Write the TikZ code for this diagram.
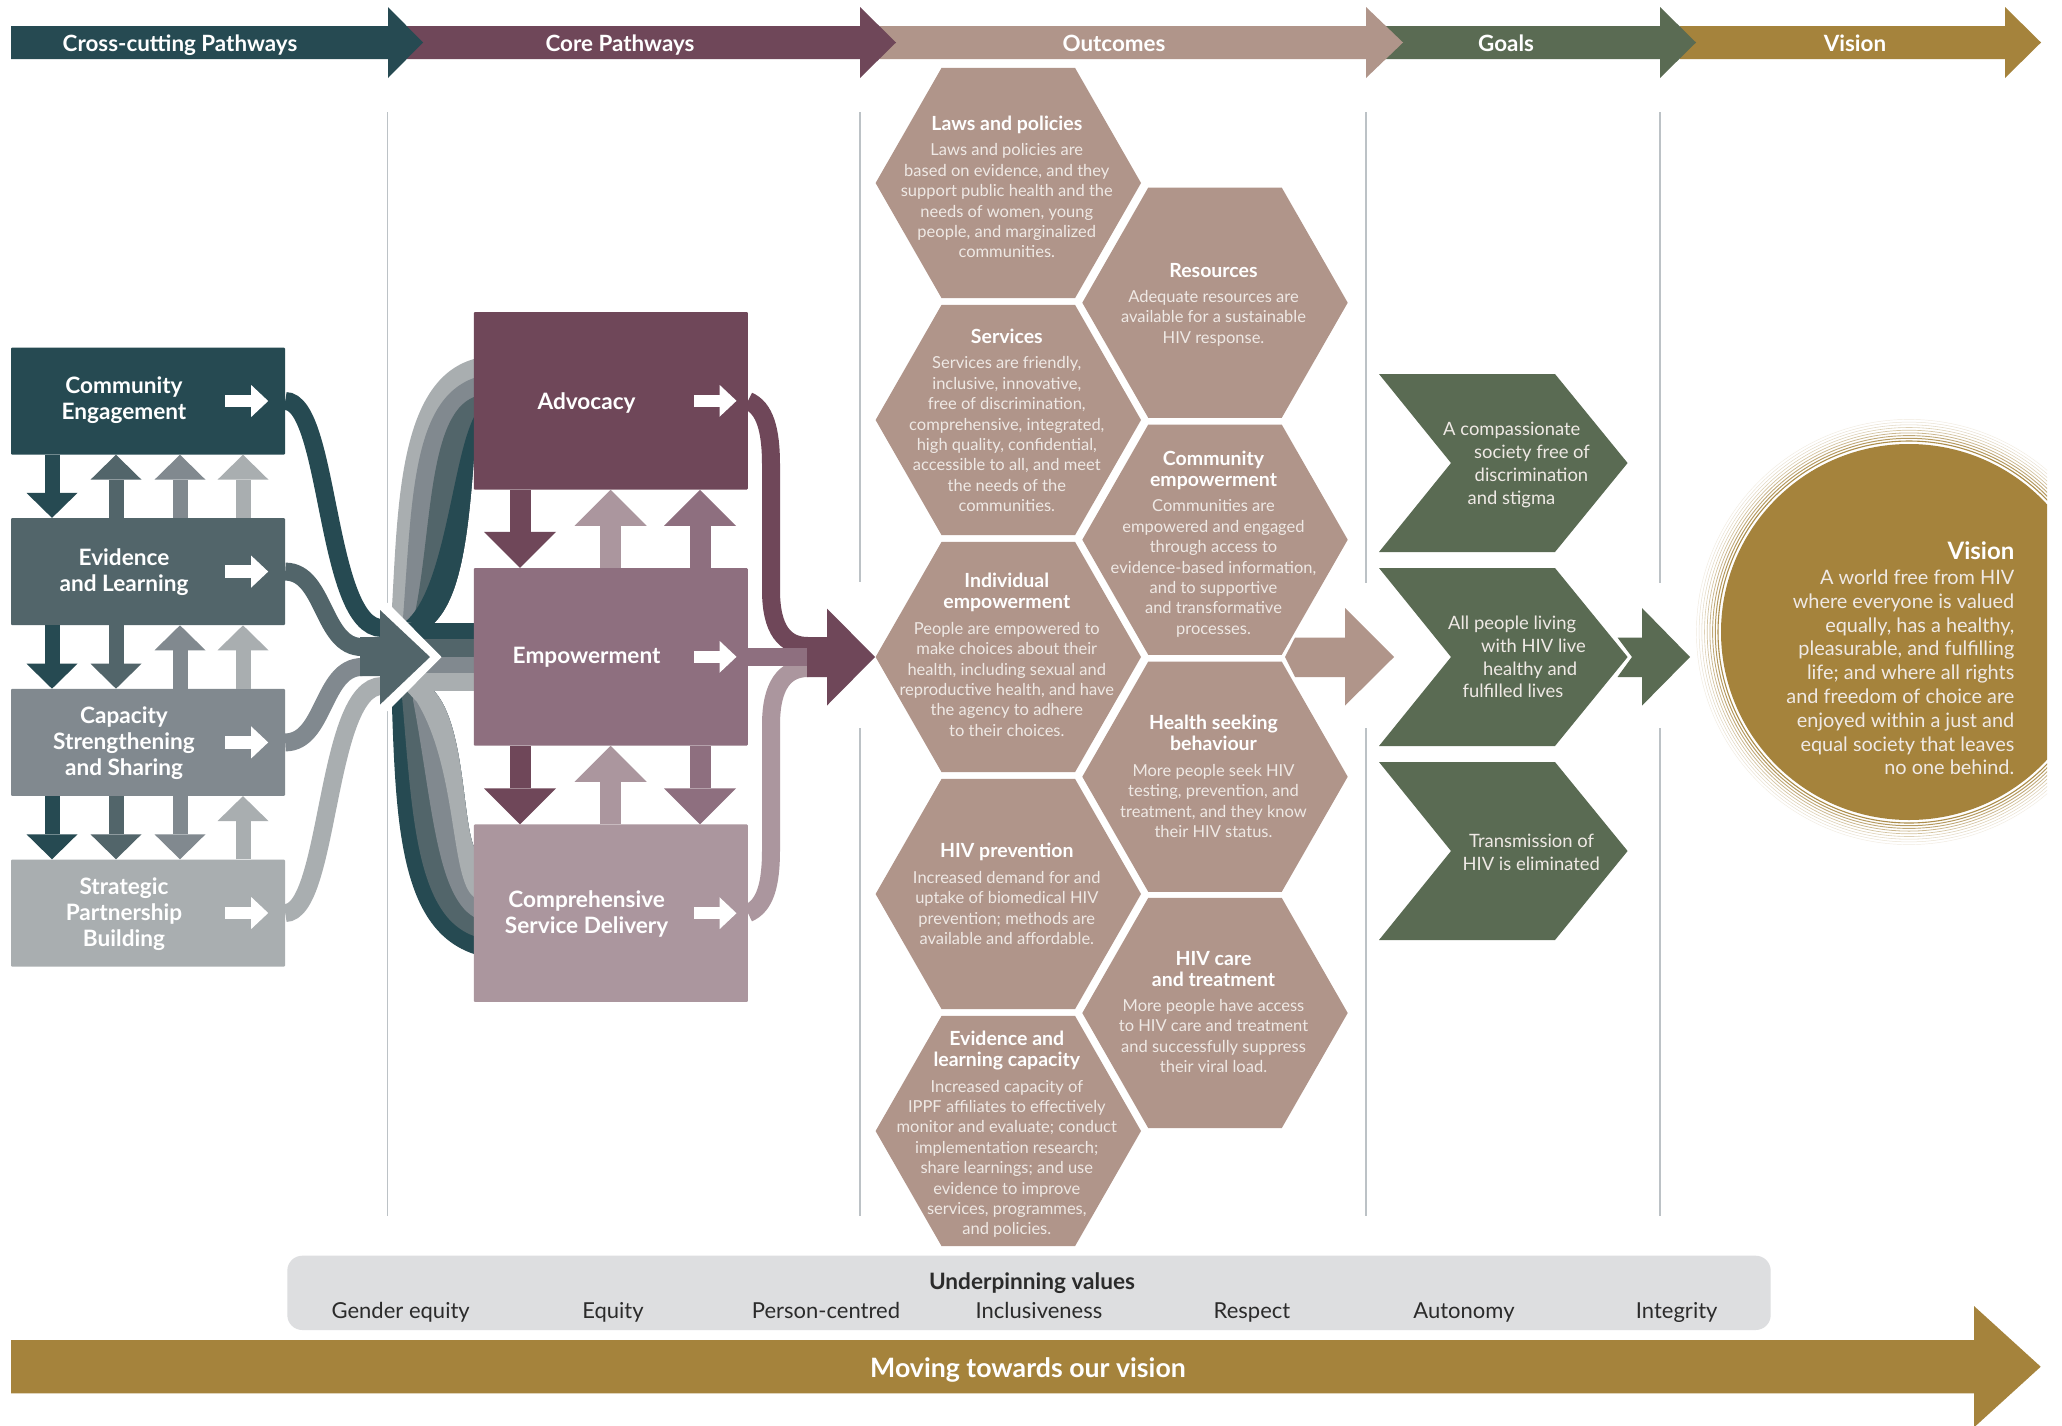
\documentclass[tikz,border=0pt]{standalone}
\usepackage{fontspec}
\setmainfont{Lato}
\usetikzlibrary{arrows.meta,calc}
\definecolor{teal}{HTML}{264A52}
\definecolor{evid}{HTML}{52656A}
\definecolor{capa}{HTML}{81898F}
\definecolor{stra}{HTML}{A9AEB0}
\definecolor{plum}{HTML}{6F4759}
\definecolor{empo}{HTML}{8E6F7F}
\definecolor{comp}{HTML}{AB969E}
\definecolor{tanh}{HTML}{B0958A}
\definecolor{gren}{HTML}{5A6B53}
\definecolor{gold}{HTML}{A5833C}
\definecolor{rule}{HTML}{BCC2C6}
\definecolor{valb}{HTML}{DDDEE0}
\definecolor{bodyt}{HTML}{EFE9E5}
\definecolor{valt}{HTML}{2B2B2B}
\newcommand{\fs}[2]{\fontsize{#1}{#2}\selectfont}
\tikzset{
  x=1pt,y=-1pt,
  crossbox/.style={draw=none,fill=#1,rounded corners=1pt,minimum width=274pt,minimum height=107pt,inner sep=0pt},
  corebox/.style={draw=none,fill=#1,rounded corners=1pt,minimum width=274pt,minimum height=177.5pt,inner sep=0pt},
  boxtext/.style={text=white,align=center,font=\fs{22.6}{26}\bfseries,inner sep=0pt},
  toptext/.style={text=white,font=\fs{22.4}{25}\bfseries,inner sep=0pt,text height=15pt,text depth=5pt},
  hextext/.style={text=bodyt,align=center,font=\fs{16.5}{20.4},inner sep=0pt},
  goaltext/.style={text=bodyt,align=left,anchor=west,font=\fs{18.4}{22.7},inner sep=0pt},
  smallarrow/.style={draw=#1,line width=15pt,-{Triangle[width=51pt,length=25pt,line width=0pt,fill=#1]}},
  bigarrow/.style={draw=#1,line width=21pt,-{Triangle[width=72pt,length=36pt,line width=0pt,fill=#1]}},
  whitearrow/.style={draw=white,line width=12.5pt,-{Triangle[width=32pt,length=17pt,line width=0pt,fill=white]}},
  band/.style={draw=#1,line width=18pt,line cap=butt},
  vrule/.style={draw=rule,line width=1.8pt},
  valtext/.style={text=valt,font=\fs{22}{24},inner sep=0pt,text height=15pt,text depth=5pt},
}
\newcommand{\hexa}[5]{% name, cx, cy, texty, text
  \fill[tanh] (#2-132.7,#3) -- (#2-66.7,#3-115.2) -- (#2+66.7,#3-115.2) -- (#2+132.7,#3) -- (#2+66.7,#3+115.2) -- (#2-66.7,#3+115.2) -- cycle;
  \node[hextext] (#1) at (#2-1.5,#4) {#5};
}
\newcommand{\hd}[1]{{\fontsize{19.5}{21.2}\selectfont\bfseries\color{white}#1}}
\newcommand{\chev}[2]{% cy, name
  \fill[gren] (1379,#1-89) -- (1555,#1-89) -- (1627.6,#1) -- (1555,#1+89) -- (1379,#1+89) -- (1451,#1) -- cycle;
}
\newcommand{\toparr}[5]{% start, base, tip, colour
  \fill[#4] (#1,26) -- (#2,26) -- (#2,7) -- (#3,42.5) -- (#2,78) -- (#2,59) -- (#1,59) -- cycle;
}
\begin{document}
\begin{tikzpicture}
\useasboundingbox (0,0) rectangle (2062,1425);
\fill[white] (0,0) rectangle (2062,1425);
% vertical rules
\draw[vrule] (387.5,112) -- (387.5,1216);
\draw[vrule] (860,112) -- (860,582);
\draw[vrule] (860,728) -- (860,1216);
\draw[vrule] (1366,112) -- (1366,583);
\draw[vrule] (1366,728) -- (1366,1216);
\draw[vrule] (1660,112) -- (1660,583);
\draw[vrule] (1660,728) -- (1660,1216);
% top arrows
\toparr{1680}{2005}{2041}{gold}{}
\toparr{1380}{1660}{1696}{gren}{}
\toparr{880}{1366}{1403}{tanh}{}
\toparr{400}{860}{896}{plum}{}
\toparr{11}{388}{423}{teal}{}
\node[toptext] (t1) at (180,46.5) {Cross-cutting Pathways};
\node[toptext] (t2) at (620,46.5) {Core Pathways};
\node[toptext] (t3) at (1114,46.5) {Outcomes};
\node[toptext] (t4) at (1506,46.5) {Goals};
\node[toptext] (t5) at (1855,46.5) {Vision};
% cross-cutting boxes
\node[crossbox=teal] (b1) at (148,401) {};
\node[crossbox=evid] (b2) at (148,571.6) {};
\node[crossbox=capa] (b3) at (148,742.4) {};
\node[crossbox=stra] (b4) at (148,913) {};
\node[boxtext] (l1) at (124,400.5) {Community\\Engagement};
\node[boxtext] (l2) at (124,572.5) {Evidence\\and Learning};
\node[boxtext] (l3) at (124,743.5) {Capacity\\Strengthening\\and Sharing};
\node[boxtext] (l4) at (124,914.5) {Strategic\\Partnership\\Building};
\foreach \n in {b1,b2,b3,b4}{\draw[whitearrow] ($(\n.east)+(-60,0)$) -- ($(\n.east)+(-17,0)$);}
\coordinate (ca) at (52,0);
\coordinate (cb) at (116,0);
\coordinate (cc) at (180,0);
\coordinate (cd) at (243,0);
\draw[smallarrow=teal] (b1.south -| ca) -- (b2.north -| ca);
\draw[smallarrow=evid] (b2.north -| cb) -- (b1.south -| cb);
\draw[smallarrow=capa] (b2.north -| cc) -- (b1.south -| cc);
\draw[smallarrow=stra] (b2.north -| cd) -- (b1.south -| cd);
\draw[smallarrow=teal] (b2.south -| ca) -- (b3.north -| ca);
\draw[smallarrow=evid] (b2.south -| cb) -- (b3.north -| cb);
\draw[smallarrow=capa] (b3.north -| cc) -- (b2.south -| cc);
\draw[smallarrow=stra] (b3.north -| cd) -- (b2.south -| cd);
\draw[smallarrow=teal] (b3.south -| ca) -- (b4.north -| ca);
\draw[smallarrow=evid] (b3.south -| cb) -- (b4.north -| cb);
\draw[smallarrow=capa] (b3.south -| cc) -- (b4.north -| cc);
\draw[smallarrow=stra] (b4.north -| cd) -- (b3.south -| cd);
% flows into the central arrow
\coordinate (in1) at (382,628);
\coordinate (in2) at (362,647);
\coordinate (in3) at (362,667);
\coordinate (in4) at (382,686);
\draw[band=stra] (b4.east) .. controls (330,913) and (325,686) .. (in4);
\draw[band=teal] (b1.east) .. controls (330,401) and (325,628) .. (in1);
\draw[band=evid] (b2.east) .. controls (325,571.6) and (322,647) .. (in2);
\draw[band=capa] (b3.east) .. controls (325,742.4) and (322,667) .. (in3);
% upper fan
\fill[stra] (392,607) .. controls (398,500) and (400,380) .. (474,359) -- (474,457) .. controls (468,540) and (460,600) .. (432,625) -- (405,625) -- cycle;
\fill[capa] (403,618) .. controls (412,500) and (412,400) .. (474,378) -- (474,457) .. controls (468,540) and (460,600) .. (432,625) -- (405,625) -- cycle;
\fill[evid] (415,613) .. controls (432,530) and (428,415) .. (474,397) -- (474,457) .. controls (468,540) and (460,600) .. (432,625) -- (410,625) -- cycle;
\fill[teal] (405,622) .. controls (445,590) and (452,460) .. (474,417) -- (474,457) .. controls (468,540) and (460,600) .. (432,625) -- cycle;
% lower fan
\fill[teal] (392,707) .. controls (396,830) and (402,930) .. (474,954) -- (474,847) .. controls (462,820) and (465,720) .. (432,689) -- (392,689) -- cycle;
\fill[evid] (402,697) .. controls (412,810) and (415,915) .. (474,936) -- (474,847) .. controls (462,820) and (465,720) .. (432,689) -- (402,689) -- cycle;
\fill[capa] (413,700) .. controls (432,800) and (436,895) .. (474,917) -- (474,847) .. controls (462,820) and (465,720) .. (432,689) -- (413,689) -- cycle;
\fill[stra] (417,702) .. controls (458,770) and (450,880) .. (474,897) -- (474,847) .. controls (462,820) and (465,720) .. (432,689) -- (405,689) -- cycle;
% horizontal stack
\fill[teal] (400,623.3) rectangle (480,639);
\fill[evid] (400,639) rectangle (480,657);
\fill[capa] (400,657) rectangle (480,673);
\fill[stra] (400,673) rectangle (480,690.7);
% central arrow
\fill[white] (380,602) -- (388,603) -- (441.5,657) -- (388,711) -- (380,712) -- cycle;
\fill[evid] (360,637) -- (380,637) -- (380,610) -- (430,657) -- (380,704.6) -- (380,676) -- (360,676) -- cycle;
% core boxes
\node[corebox=plum] (c1) at (610.8,400.8) {};
\node[corebox=empo] (c2) at (610.8,656.8) {};
\node[corebox=comp] (c3) at (610.8,913.2) {};
\node[boxtext] (m1) at (586.6,403) {Advocacy};
\node[boxtext] (m2) at (586.6,657.5) {Empowerment};
\node[boxtext] (m3) at (586.6,913.5) {Comprehensive\\Service Delivery};
\foreach \n in {c1,c2,c3}{\draw[whitearrow] ($(\n.east)+(-54,0)$) -- ($(\n.east)+(-11.5,0)$);}
\coordinate (da) at (520,0);
\coordinate (db) at (610.7,0);
\coordinate (dc) at (700,0);
\draw[bigarrow=plum] (c1.south -| da) -- (c2.north -| da);
\draw[bigarrow=comp] (c2.north -| db) -- (c1.south -| db);
\draw[bigarrow=empo] (c2.north -| dc) -- (c1.south -| dc);
\draw[bigarrow=plum] (c2.south -| da) -- (c3.north -| da);
\draw[bigarrow=comp] (c3.north -| db) -- (c2.south -| db);
\draw[bigarrow=empo] (c2.south -| dc) -- (c3.north -| dc);
% flows out of core
\coordinate (o1) at (808,646);
\coordinate (o2) at (808,656.8);
\coordinate (o3) at (808,668);
\draw[band=comp] (c3.east) .. controls (765,906) and (771,885) .. (771,850) -- (771,725) .. controls (771,685) and (785,668) .. (o3);
\draw[band=plum] (c1.east) .. controls (765,408) and (771,430) .. (771,465) -- (771,590) .. controls (771,630) and (785,646) .. (o1);
\draw[band=empo] (c2.east) -- (o2);
\fill[plum] (807,637) -- (827,637) -- (827,608.5) -- (875,657) -- (827,705.5) -- (827,677) -- (807,677) -- (807,666) -- (807,647) -- cycle;
% outcome hexagons
\hexa{h1}{1008.3}{183}{187}{\hd{Laws and policies}\\[5pt]Laws and policies are\\based on evidence, and they\\support public health and the\\needs of women, young\\people, and marginalized\\communities.}
\hexa{h2}{1215}{302.7}{304.5}{\hd{Resources}\\[5pt]Adequate resources are\\available for a sustainable\\HIV response.}
\hexa{h3}{1008.3}{420}{420.5}{\hd{Services}\\[5pt]Services are friendly,\\inclusive, innovative,\\free of discrimination,\\comprehensive, integrated,\\high quality, confidential,\\accessible to all, and meet\\the needs of the\\communities.}
\hexa{h4}{1215}{539.7}{544}{\hd{Community}\\[.6pt]\hd{empowerment}\\[5pt]Communities are\\empowered and engaged\\through access to\\evidence-based information,\\and to supportive\\and transformative\\processes.}
\hexa{h5}{1008.3}{657}{655}{\hd{Individual}\\[.6pt]\hd{empowerment}\\[5pt]People are empowered to\\make choices about their\\health, including sexual and\\reproductive health, and have\\the agency to adhere\\to their choices.}
\hexa{h6}{1215}{776.7}{776.5}{\hd{Health seeking}\\[.6pt]\hd{behaviour}\\[5pt]More people seek HIV\\testing, prevention, and\\treatment, and they know\\their HIV status.}
\hexa{h7}{1008.3}{894}{894}{\hd{HIV prevention}\\[5pt]Increased demand for and\\uptake of biomedical HIV\\prevention; methods are\\available and affordable.}
\hexa{h8}{1215}{1013}{1012}{\hd{HIV care}\\[.6pt]\hd{and treatment}\\[5pt]More people have access\\to HIV care and treatment\\and successfully suppress\\their viral load.}
\hexa{h9}{1008.3}{1131}{1134.5}{\hd{Evidence and}\\[.6pt]\hd{learning capacity}\\[5pt]Increased capacity of\\IPPF affiliates to effectively\\monitor and evaluate; conduct\\implementation research;\\share learnings; and use\\evidence to improve\\services, programmes,\\and policies.}
% tan arrow
\fill[tanh] (1285,657) -- (1295,637.5) -- (1345,637.5) -- (1345,608) -- (1394,657) -- (1345,705.6) -- (1345,677) -- (1295,677) -- cycle;
% goals
\chev{463}{g1}
\chev{657}{g2}
\chev{851}{g3}
\node[goaltext] (g1t) at (1443,465) {A compassionate\\\hspace*{31pt}society free of\\\hspace*{31.5pt}discrimination\\\hspace*{24.5pt}and stigma};
\node[goaltext] (g2t) at (1448,657) {All people living\\\hspace*{33pt}with HIV live\\\hspace*{35pt}healthy and\\\hspace*{14.4pt}fulfilled lives};
\node[goaltext] (g3t) at (1462.4,852.5) {\hspace*{6.6pt}Transmission of\\HIV is eliminated};
\fill[gren] (1617.5,637.5) -- (1642,637.5) -- (1642,608) -- (1690,657) -- (1642,705.6) -- (1642,677) -- (1617.5,677) -- (1632,657) -- cycle;
% vision circle
\begin{scope}
\clip (1680,400) rectangle (2047,870);
\foreach \k/\op/\lw in {0/92/1.1,1/82/1,2/70/.9,3/58/.8,4/48/.7,5/38/.6,6/30/.55,7/23/.5,8/16/.45}{
  \draw[gold!\op,line width=\lw pt] (1909,632) circle[radius=191+\k*2.7];
}
\fill[gold] (1909,632) circle[radius=188];
\end{scope}
\node[text=bodyt,align=right,anchor=east,font=\fs{19.9}{23.8},inner sep=0pt] (vis) at (2014.5,658.5) {{\fontsize{24}{26}\selectfont\bfseries\color{white}Vision}\\[1pt]A world free from HIV\\where everyone is valued\\equally, has a healthy,\\pleasurable, and fulfilling\\life; and where all rights\\and freedom of choice are\\enjoyed within a just and\\equal society that leaves\\no one behind.};
% values
\fill[valb,rounded corners=15pt] (287.3,1255.7) rectangle (1770.7,1330);
\node[valtext,font=\fs{22.6}{24}\bfseries] (v0) at (1032,1284) {Underpinning values};
\node[valtext] (v1) at (400.7,1313) {Gender equity};
\node[valtext] (v2) at (613,1313) {Equity};
\node[valtext] (v3) at (826,1313) {Person-centred};
\node[valtext] (v4) at (1039,1313) {Inclusiveness};
\node[valtext] (v5) at (1252,1313) {Respect};
\node[valtext] (v6) at (1464,1313) {Autonomy};
\node[valtext] (v7) at (1676.7,1313) {Integrity};
% bottom arrow
\fill[gold] (11,1340) -- (1974,1340) -- (1974,1306) -- (2040.7,1366.7) -- (1974,1427.4) -- (1974,1393.3) -- (11,1393.3) -- cycle;
\node[text=white,font=\fs{26.7}{30}\bfseries,inner sep=0pt,text height=18pt,text depth=6pt] (mv) at (1028,1371.5) {Moving towards our vision};
\end{tikzpicture}
\end{document}
